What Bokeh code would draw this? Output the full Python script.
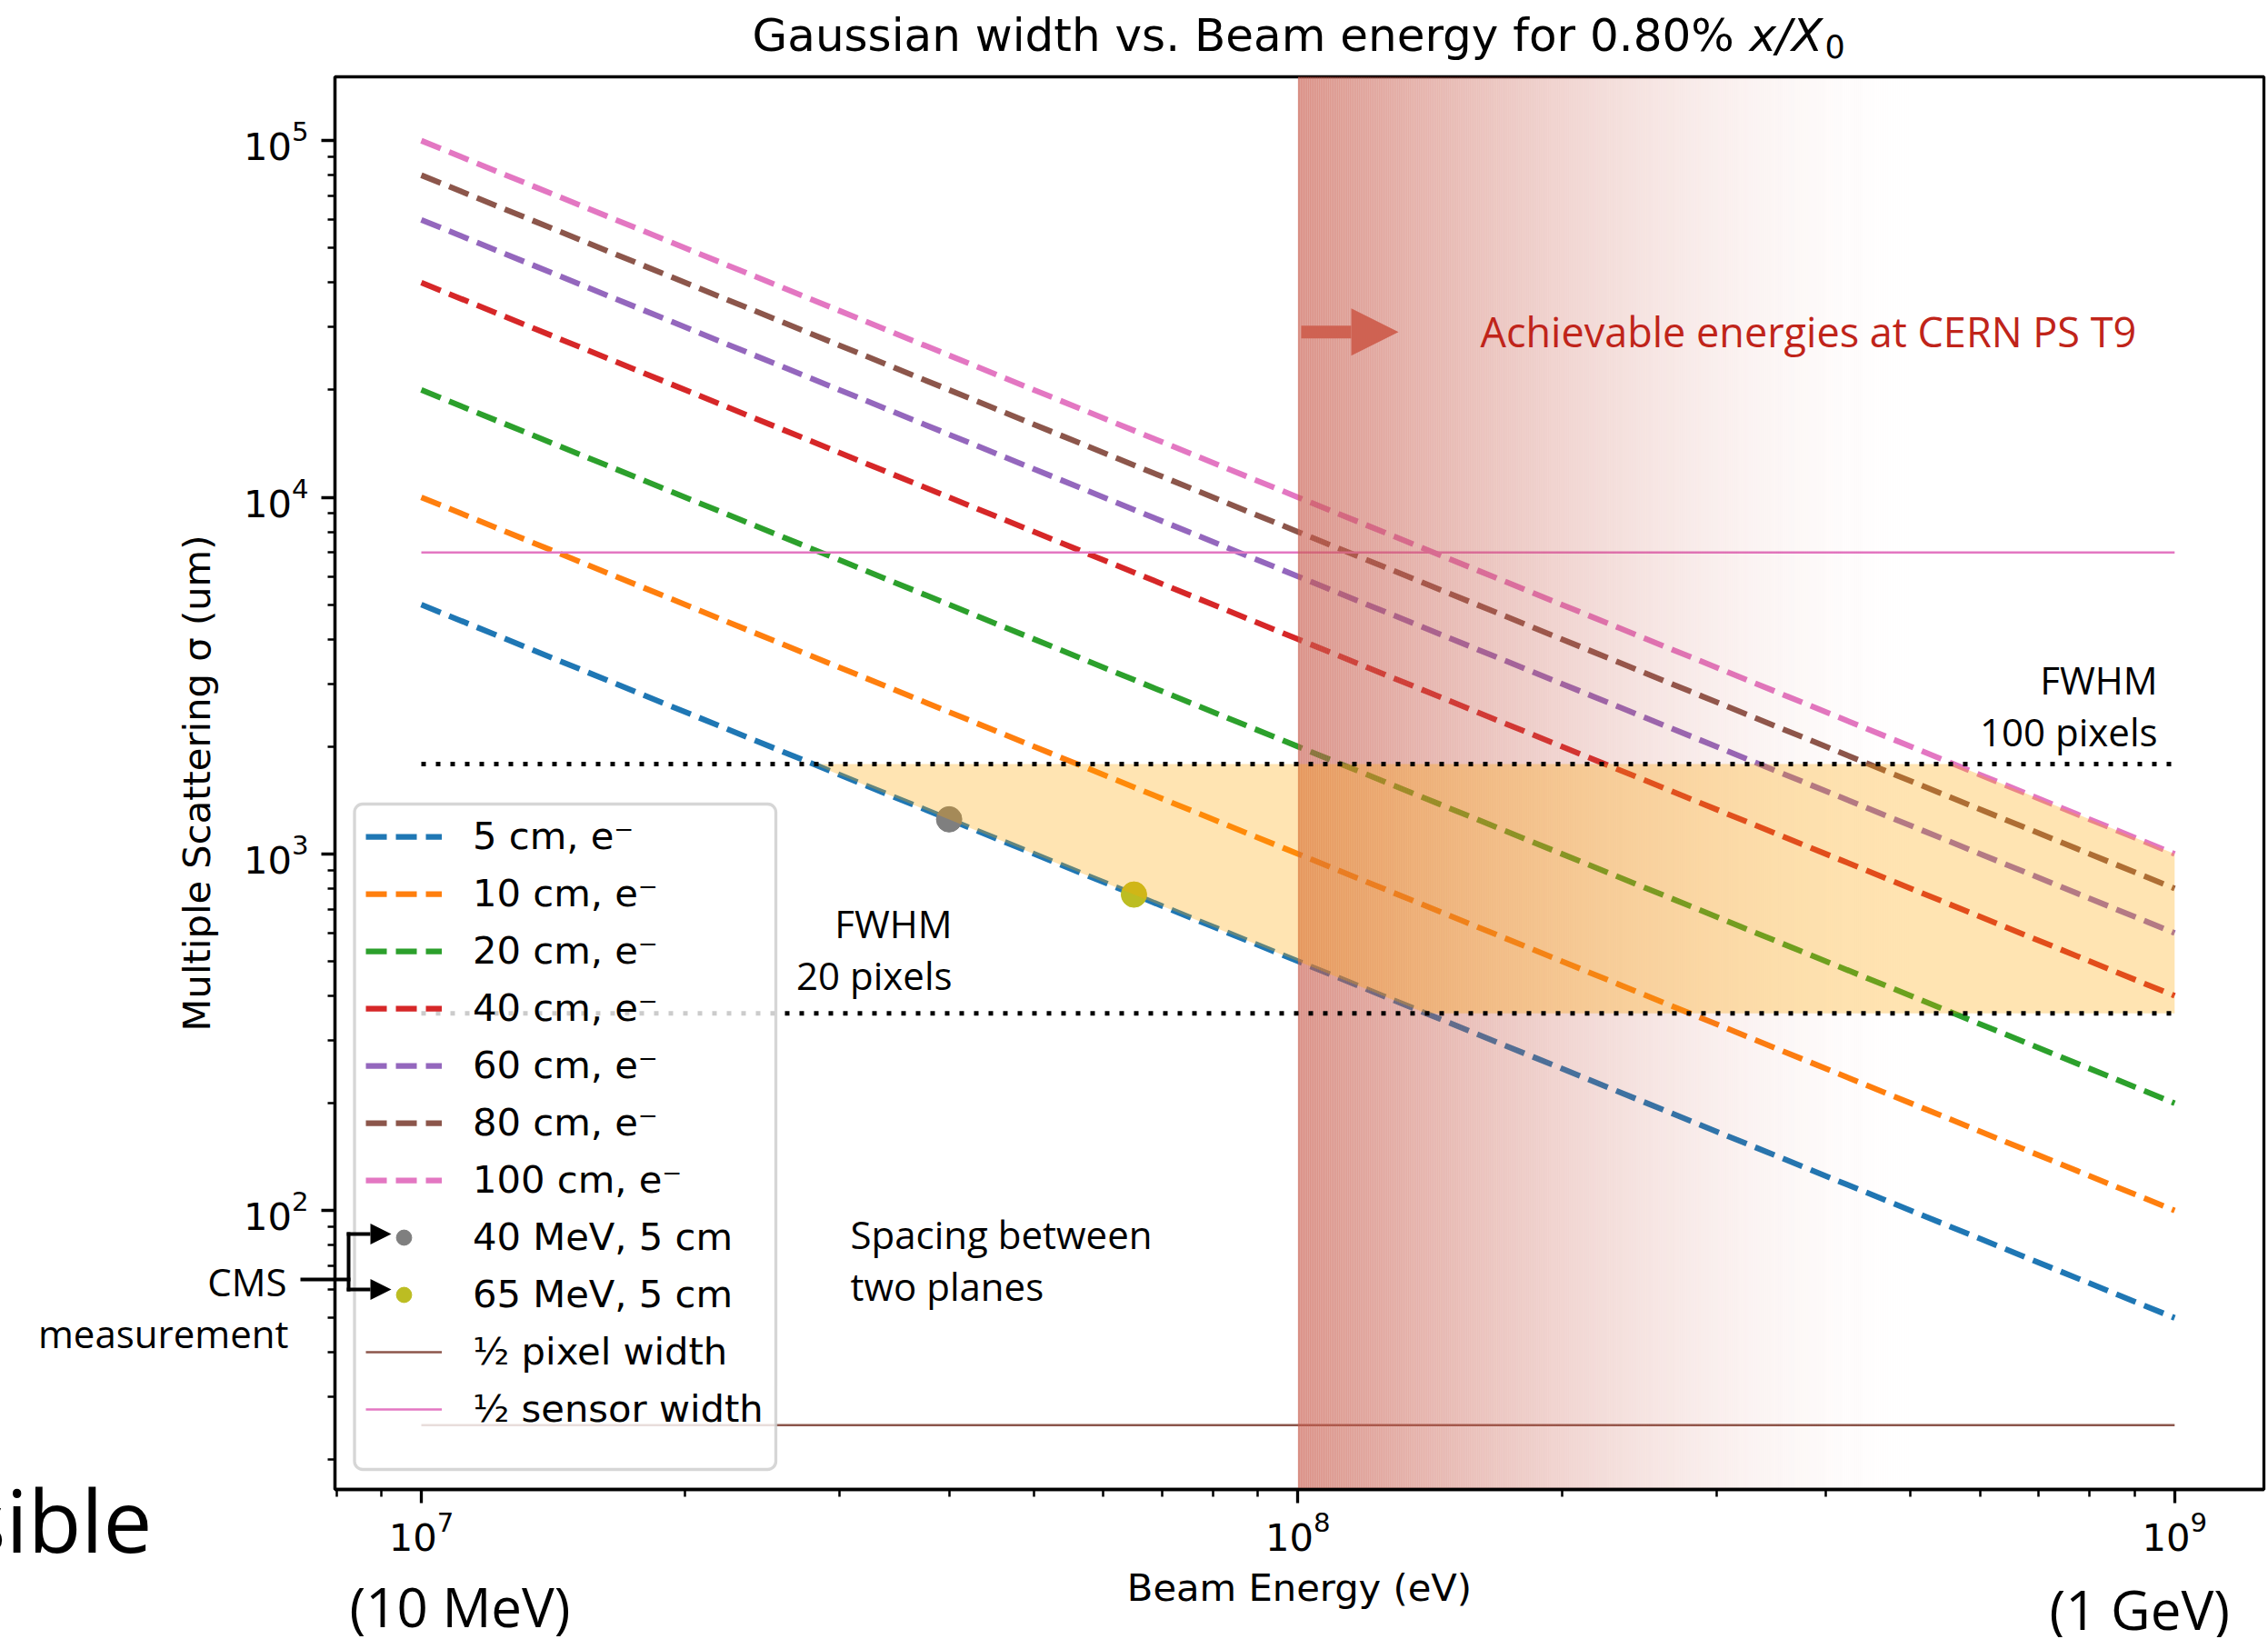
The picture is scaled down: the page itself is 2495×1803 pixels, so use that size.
import numpy as np
from bokeh.plotting import figure
from bokeh.models import (Range1d, Legend, LegendItem, Label, Arrow, NormalHead,
                          FixedTicker)
from bokeh.core.properties import value
from bokeh.embed import file_html
from bokeh.resources import INLINE

# ---------------- data ----------------
energy_ev = [1e7, 1e8, 1e9]
series_labels = ["5 cm, e\u207b", "10 cm, e\u207b", "20 cm, e\u207b", "40 cm, e\u207b",
                 "60 cm, e\u207b", "80 cm, e\u207b", "100 cm, e\u207b"]
sigma_5cm = [5000, 500, 50]
sigma_10cm = [10000, 1000, 100]
sigma_20cm = [20000, 2000, 200]
sigma_40cm = [40000, 4000, 400]
sigma_60cm = [60000, 6000, 600]
sigma_80cm = [80000, 8000, 800]
sigma_100cm = [100000, 10000, 1000]
series_colors = ["#1f77b4", "#ff7f0e", "#2ca02c", "#d62728", "#9467bd", "#8c564b", "#e377c2"]

cms_energy = [4.0e7, 6.5e7]
cms_sigma = [1250, 769]
cms_labels = ["40 MeV, 5 cm", "65 MeV, 5 cm"]
cms_colors = ["#7f7f7f", "#bcbd22"]

hline_energy = [1e7, 1e9]
half_pixel_width = 25
half_sensor_width = 7000

fwhm_100px = 1786
fwhm_20px = 357

beam_start = 1e8          # achievable energies at CERN PS T9 start here

x_ticks = [1e7, 1e8, 1e9]
y_ticks = [1e2, 1e3, 1e4, 1e5]

# ---------------- layout constants ----------------
W, H = 2493, 1801
FL, FT, FB = 368, 84, 1638          # frame left / top / bottom (page pixels)
FR = 2490
FW, FH = FR - FL, FB - FT
XS = 6.9015
DX = 964.4                          # pixels per decade, x
XE = XS + FW / DX
YS = 1.2178
DY = 392.3                          # pixels per decade, y
YE = YS + FH / DY

DV = "DejaVu Sans"
SLIDE = "Open Sans"
BASE_K = {DV: 0.346, SLIDE: 0.388}  # baseline correction (fraction of font size)


def sx(X):            # page pixel -> screen units relative to frame
    return X - FL


def sy(Y):
    return FB - Y


def dx(X):            # page pixel -> data coordinate (log axes)
    return 10 ** (XS + (X - FL) / DX)


def dy(Y):
    return 10 ** (YS + (FB - Y) / DY)


p = figure(width=W, height=H, x_axis_type="log", y_axis_type="log",
           x_range=Range1d(10 ** XS, 10 ** XE), y_range=Range1d(10 ** YS, 10 ** YE),
           output_backend="svg", toolbar_location=None,
           min_border_left=FL, min_border_right=W - FR, min_border_top=FT,
           min_border_bottom=H - FB)
p.title.text = ""
p.xgrid.visible = False
p.ygrid.visible = False
p.background_fill_color = "white"
p.border_fill_color = "white"
p.outline_line_color = "black"
p.outline_line_width = 3.3
p.outline_line_alpha = 1.0

minor = [m * 10.0 ** e for e in range(0, 11) for m in range(2, 10)]
p.xaxis.ticker = FixedTicker(ticks=x_ticks, minor_ticks=minor)
p.yaxis.ticker = FixedTicker(ticks=y_ticks, minor_ticks=minor)

for ax in (p.xaxis[0], p.yaxis[0]):
    ax.axis_line_width = 3.3
    ax.major_tick_line_width = 3.3
    ax.minor_tick_line_width = 2.5
    ax.major_tick_out = 15
    ax.major_tick_in = 0
    ax.minor_tick_out = 8
    ax.minor_tick_in = 0
    ax.major_label_text_font = DV
    ax.major_label_text_font_size = "41.67px"
    ax.major_label_text_color = "black"
    ax.axis_label_text_font = DV
    ax.axis_label_text_font_size = "41.67px"
    ax.axis_label_text_font_style = "normal"
    ax.axis_label_text_color = "black"

p.xaxis.axis_label = "Beam Energy (eV)"
p.yaxis.axis_label = "Multiple Scattering \u03c3 (um)"
p.xaxis.major_label_standoff = 9
p.xaxis.axis_label_standoff = 13
p.yaxis.major_label_standoff = 14
p.yaxis.axis_label_standoff = 24

# ---------------- series lines ----------------
series = [sigma_5cm, sigma_10cm, sigma_20cm, sigma_40cm, sigma_60cm, sigma_80cm, sigma_100cm]
line_renderers = []
for vals, col in zip(series, series_colors):
    r = p.line(energy_ev, vals, line_color=col, line_width=6.25, line_dash="23 10")
    line_renderers.append(r)

marker_renderers = []
for e, s, c in zip(cms_energy, cms_sigma, cms_colors):
    r = p.scatter([e], [s], size=28, fill_color=c, line_color=c, marker="circle")
    marker_renderers.append(r)

r_pix = p.line(hline_energy, [half_pixel_width] * 2, line_color="#8c564b", line_width=2.5)
r_sen = p.line(hline_energy, [half_sensor_width] * 2, line_color="#e377c2", line_width=2.5)

# ---------------- gradient band: achievable energies ----------------
band_color = "#c95e4f"
a0 = 0.70
fade_px = 700
start_px = FL + (np.log10(beam_start) - XS) * DX
edges_px = np.concatenate([[start_px], np.arange(np.ceil(start_px), start_px + fade_px, 2.0)[1:],
                           [start_px + fade_px]])
mid_t = ((edges_px[:-1] + edges_px[1:]) / 2 - start_px) / fade_px
band_alpha = a0 * (1 - mid_t) ** 1.8
band_left = [dx(v) for v in edges_px[:-1]]
band_left[0] = beam_start
band_right = [dx(v) for v in edges_px[1:]]
nb = len(band_left)
p.quad(left=band_left, right=band_right, top=[1e7] * nb, bottom=[1.0] * nb,
       fill_color=band_color, fill_alpha=band_alpha, line_color=None)

# ---------------- orange region between FWHM 20 and 100 pixels ----------------
lx = np.log10(energy_ev)


def crossing(vals, level):
    slope, icpt = np.polyfit(lx, np.log10(vals), 1)
    return 10 ** ((np.log10(level) - icpt) / slope)


fill_x = [crossing(sigma_5cm, fwhm_100px), crossing(sigma_5cm, fwhm_20px),
          energy_ev[-1], energy_ev[-1], crossing(sigma_100cm, fwhm_100px)]
fill_y = [fwhm_100px, fwhm_20px, fwhm_20px, sigma_100cm[-1], fwhm_100px]
p.patch(fill_x, fill_y, fill_color="#ffa500", fill_alpha=0.3, line_color=None)

# dotted FWHM lines
p.line(hline_energy, [fwhm_100px] * 2, line_color="black", line_width=5, line_dash="5 11")
p.line(hline_energy, [fwhm_20px] * 2, line_color="black", line_width=5, line_dash="5 11")

# ---------------- legend box (semi-transparent frame drawn under the connectors) ----------------
box = p.quad(left=[dx(389.5)], right=[dx(853)], top=[dy(884)], bottom=[dy(1616)],
             fill_color="white", fill_alpha=0.8, line_color="#cccccc", line_alpha=0.8,
             line_width=3.3)
if "border_radius" in type(box.glyph).properties():
    box.glyph.border_radius = 9

# ---------------- legend ----------------
items = [LegendItem(label=l, renderers=[r]) for l, r in zip(series_labels, line_renderers)]
items += [LegendItem(label=l, renderers=[r]) for l, r in zip(cms_labels, marker_renderers)]
items += [LegendItem(label="\u00bd pixel width", renderers=[r_pix]),
          LegendItem(label="\u00bd sensor width", renderers=[r_sen])]
legend = Legend(items=items, location=(34, 64))
legend.label_text_font = DV
legend.label_text_font_size = "41.67px"
legend.label_text_color = "black"
legend.glyph_width = 84
legend.glyph_height = 42
legend.label_height = 42
legend.label_standoff = 34
legend.spacing = 14
legend.padding = 14
legend.margin = 0
legend.border_line_color = None
legend.background_fill_alpha = 0.0
p.add_layout(legend)

# ---------------- texts inside the frame ----------------
inner = [
    ("Achievable energies at CERN PS T9", 1628, 381.7, "left", 45, "#c0241a"),
    ("FWHM", 2373, 763, "right", 42, "black"),
    ("100 pixels", 2373, 820, "right", 42, "black"),
    ("FWHM", 1047, 1031.7, "right", 42, "black"),
    ("20 pixels", 1047, 1088, "right", 42, "black"),
    ("Spacing between", 935, 1373, "left", 42, "black"),
    ("two planes", 935, 1430, "left", 42, "black"),
]
for t, X, Y, al, fs, col in inner:
    Yc = Y - BASE_K[SLIDE] * fs
    p.add_layout(Label(x=sx(X), y=sy(Yc), x_units="screen", y_units="screen", text=t,
                       text_font=SLIDE, text_font_size=f"{fs}px", text_color=col,
                       text_align=al, text_baseline="alphabetic"))

# ---------------- texts outside the frame (overlay-level text glyphs) ----------------
outer = [
    ("Gaussian width vs. Beam energy for 0.80% ", 827, 55.8, "left", 50, DV, "normal"),
    ("x/X", 1924, 55.8, "left", 50, DV, "italic"),
    ("0", 2007, 63, "left", 35, DV, "normal"),
    ("CMS", 315, 1425, "right", 42, SLIDE, "normal"),
    ("measurement", 317, 1482, "right", 42, SLIDE, "normal"),
    ("sible", 167, 1707, "right", 96, SLIDE, "normal"),
    ("(10 MeV)", 384, 1790, "left", 60, SLIDE, "normal"),
    ("(1 GeV)", 2254, 1793, "left", 60, SLIDE, "normal"),
]
for t, X, Y, al, fs, font, style in outer:
    Yc = Y - BASE_K[font] * fs
    p.text(x=[dx(X)], y=[dy(Yc)], text=[t], text_font=value(font),
           text_font_size=value(f"{fs}px"), text_font_style=value(style),
           text_align=value(al), text_baseline=value("alphabetic"),
           text_color="black", level="overlay")

# red arrow
arrow_color = "#cf6252"
p.add_layout(Arrow(x_start=sx(1431), y_start=sy(364.7), x_end=sx(1538), y_end=sy(364.7),
                   start_units="screen", end_units="screen",
                   line_color=arrow_color, line_width=14,
                   end=NormalHead(size=52, fill_color=arrow_color, line_color=arrow_color,
                                  line_width=0)))

# CMS connector
p.segment(x0=[dx(330), dx(383)], y0=[dy(1407), dy(1355)],
          x1=[dx(385), dx(383)], y1=[dy(1407), dy(1420)],
          line_color="black", line_width=4, level="overlay")
for yy in (1357, 1418):
    p.add_layout(Arrow(x_start=sx(381), y_start=sy(yy), x_end=sx(430), y_end=sy(yy),
                       start_units="screen", end_units="screen",
                       line_color="black", line_width=4, level="overlay",
                       end=NormalHead(size=23, fill_color="black", line_color="black",
                                      line_width=0)))

open("out.html", "w").write(file_html(p, INLINE))
